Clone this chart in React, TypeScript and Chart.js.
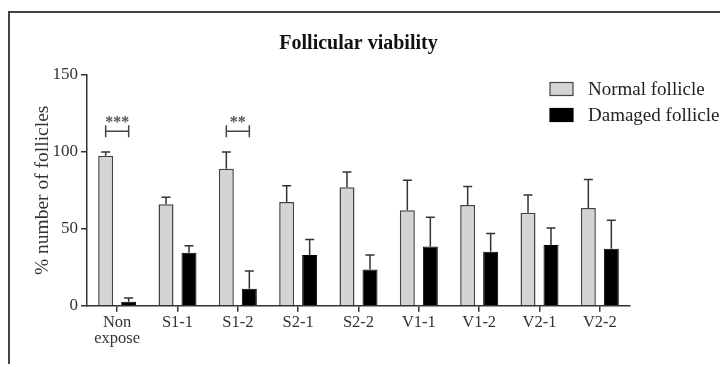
import React, { useEffect, useRef } from 'react';
import { Chart, registerables } from 'chart.js';

Chart.register(...registerables);

const categories: (string | string[])[] = [['Non', 'expose'], 'S1-1', 'S1-2', 'S2-1', 'S2-2', 'V1-1', 'V1-2', 'V2-1', 'V2-2'];
const seriesNames = ['Normal follicle', 'Damaged follicle'];
const normalMean = [97.5, 66, 89, 67.5, 77, 62, 65.5, 60.5, 63.5];
const normalSD = [2.5, 4.5, 11, 10.5, 10, 19.5, 12, 11.5, 18.5];
const damagedMean = [2.5, 34.5, 11, 33, 23.5, 38.5, 35, 39.5, 37];
const damagedSD = [2.5, 4.5, 11.5, 10, 9.5, 19, 12, 11, 18.5];
const yTicks = [0, 50, 100, 150];
const sigCategory = [0, 2];
const sigLabels = ['***', '**'];
const sigLevel = [113.5, 113.5];
const chartTitle = 'Follicular viability';
const yTitle = '% number of follicles';

const SERIF = "'Liberation Serif', 'Times New Roman', serif";
const INK = '#333333';

const errorBarPlugin = {
  id: 'errorBars',
  afterDatasetsDraw(chart: any) {
    const ctx = chart.ctx;
    const y = chart.scales.y;
    ctx.save();
    ctx.strokeStyle = INK;
    ctx.lineWidth = 1.5;
    chart.data.datasets.forEach((ds: any, i: number) => {
      const meta = chart.getDatasetMeta(i);
      meta.data.forEach((el: any, j: number) => {
        const top = y.getPixelForValue(ds.data[j] + ds.sd[j]);
        ctx.beginPath();
        ctx.moveTo(el.x, el.y);
        ctx.lineTo(el.x, top);
        ctx.moveTo(el.x - 4.5, top);
        ctx.lineTo(el.x + 4.5, top);
        ctx.stroke();
      });
    });
    ctx.restore();
  },
};

const sigPlugin = {
  id: 'sigBrackets',
  afterDatasetsDraw(chart: any) {
    const ctx = chart.ctx;
    const y = chart.scales.y;
    const m0 = chart.getDatasetMeta(0);
    const m1 = chart.getDatasetMeta(1);
    ctx.save();
    ctx.strokeStyle = '#444';
    ctx.lineWidth = 1.5;
    sigCategory.forEach((c, k) => {
      const x0 = m0.data[c].x;
      const x1 = m1.data[c].x;
      const py = y.getPixelForValue(sigLevel[k]);
      ctx.beginPath();
      ctx.moveTo(x0, py);
      ctx.lineTo(x1, py);
      ctx.moveTo(x0, py - 6);
      ctx.lineTo(x0, py + 6);
      ctx.moveTo(x1, py - 6);
      ctx.lineTo(x1, py + 6);
      ctx.stroke();
      ctx.fillStyle = '#555';
      ctx.font = `bold 16px ${SERIF}`;
      ctx.textAlign = 'center';
      ctx.textBaseline = 'alphabetic';
      ctx.fillText(sigLabels[k], (x0 + x1) / 2, py - 4);
    });
    ctx.restore();
  },
};

const titleLegendPlugin = {
  id: 'titleLegend',
  afterDraw(chart: any) {
    const ctx = chart.ctx;
    const area = chart.chartArea;
    ctx.save();
    ctx.fillStyle = '#111';
    ctx.font = `bold 20px ${SERIF}`;
    ctx.textAlign = 'center';
    ctx.textBaseline = 'middle';
    ctx.fillText(chartTitle, (area.left + area.right) / 2, 31);

    const bx = area.right - 80;
    const rows = [76, 102];
    chart.data.datasets.forEach((ds: any, i: number) => {
      const cy = rows[i];
      ctx.fillStyle = ds.backgroundColor;
      ctx.fillRect(bx, cy - 6.5, 23, 13);
      ctx.strokeStyle = ds.borderColor;
      ctx.lineWidth = 1.2;
      ctx.strokeRect(bx, cy - 6.5, 23, 13);
      ctx.fillStyle = '#222';
      ctx.font = `19px ${SERIF}`;
      ctx.textAlign = 'left';
      ctx.textBaseline = 'middle';
      ctx.fillText(ds.label, bx + 38, cy + 1);
    });
    ctx.restore();
  },
};

export default function App() {
  const ref = useRef<HTMLCanvasElement | null>(null);

  useEffect(() => {
    if (!ref.current) return;
    const chart = new Chart(ref.current, {
      type: 'bar',
      data: {
        labels: categories as any,
        datasets: [
          {
            label: seriesNames[0],
            data: normalMean,
            sd: normalSD,
            backgroundColor: '#d4d4d4',
            borderColor: '#444444',
            borderWidth: 1.5,
            categoryPercentage: 0.762,
            barPercentage: 0.652,
          } as any,
          {
            label: seriesNames[1],
            data: damagedMean,
            sd: damagedSD,
            backgroundColor: '#000000',
            borderColor: '#000000',
            borderWidth: 1,
            categoryPercentage: 0.762,
            barPercentage: 0.652,
          } as any,
        ],
      },
      options: {
        animation: false,
        responsive: false,
        events: [],
        layout: { padding: { left: 17, right: 98, top: 62, bottom: 0 } },
        plugins: {
          legend: { display: false },
          title: { display: false },
          tooltip: { enabled: false },
        },
        scales: {
          x: {
            afterFit: (s: any) => { s.height = 61.3; },
            grid: { display: true, drawOnChartArea: false, drawTicks: true, tickLength: 6, offset: false, color: INK, lineWidth: 1.5 },
            border: { display: true, color: INK, width: 1.5 },
            ticks: {
              color: INK,
              padding: 3,
              maxRotation: 0,
              autoSkip: false,
              font: { family: SERIF, size: 16.5, lineHeight: 0.95 },
            },
          },
          y: {
            min: 0,
            max: 150,
            afterFit: (s: any) => { s.width = 60; },
            afterBuildTicks: (s: any) => { s.ticks = yTicks.map((v) => ({ value: v })); },
            grid: { display: true, drawOnChartArea: false, drawTicks: true, tickLength: 6, color: INK, lineWidth: 1.5 },
            border: { display: true, color: INK, width: 1.5 },
            ticks: { color: INK, padding: 3, font: { family: SERIF, size: 17 } },
            title: { display: true, text: yTitle, color: INK, font: { family: SERIF, size: 19.5 }, padding: 4 },
          },
        },
      },
      plugins: [errorBarPlugin, sigPlugin, titleLegendPlugin],
    });
    return () => chart.destroy();
  }, []);

  return (
    <div
      style={{
        position: 'relative',
        top: 3,
        width: 720,
        height: 356,
        boxSizing: 'border-box',
        borderLeft: '2px solid #444',
        borderTop: '2px solid #444',
        background: '#fff',
      }}
    >
      <canvas ref={ref} width={718} height={354} style={{ display: 'block' }} />
    </div>
  );
}
